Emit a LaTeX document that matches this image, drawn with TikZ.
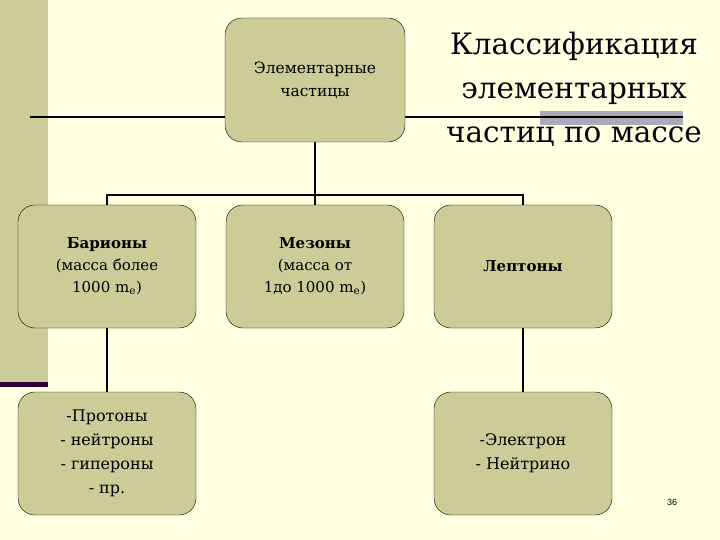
\documentclass[tikz,border=0pt]{standalone}
\usepackage{fontspec}
\setmainfont{DejaVu Serif}
\newfontfamily\pagefont{Liberation Sans}
\usepackage{xcolor}
\usepackage{tikz}
\usetikzlibrary{positioning}

\definecolor{khaki}{RGB}{204,204,153}
\definecolor{paper}{RGB}{255,255,225}
\definecolor{plum}{RGB}{51,0,51}
\definecolor{bargray}{RGB}{170,170,185}

\begin{document}
\begin{tikzpicture}[x=1pt, y=-1pt,
    box/.style={rectangle, rounded corners=17pt, draw, thin, fill=khaki,
      minimum width=178pt, minimum height=123pt, align=center, inner sep=0pt},
    link/.style={line width=1.6pt}]
          % slide background
          \fill[paper] (0,0) rectangle (720,540);
          \useasboundingbox (0,0) rectangle (720,540);
          \fill[khaki] (0,0) rectangle (48,382);
          \fill[plum] (0,382) rectangle (48,387);
          \fill[bargray] (540,111) rectangle (683,125);

          \coordinate (rulel) at (30,117);
          \coordinate (ruler) at (683,117);
          \draw[link] (rulel) -- (ruler);

          \node[box, minimum width=180pt, minimum height=124pt, font=\fontsize{15.5}{23}\selectfont] (part) at (315,80) {Элементарные\\частицы};

          \node[align=center, inner sep=0pt, font=\fontsize{29.5}{44}\selectfont, text=plum!30!black] (title) at (574,89) {Классификация\\элементарных\\частиц по массе};

          \node[box, font=\fontsize{15}{22}\selectfont] (bar) at (107,266.5) {\textbf{Барионы}\\(масса более\\1000 m\textsubscript{e})};
          \node[box, font=\fontsize{15}{22}\selectfont] (mes) at (315,266.5) {\textbf{Мезоны}\\(масса от\\1до 1000 m\textsubscript{e})};
          \node[box, font=\fontsize{15}{22}\selectfont] (lep) at (523,266.5) {\textbf{Лептоны}};

          \node[box, font=\fontsize{16}{24}\selectfont] (barlist) at (107,453.5) {-Протоны\\- нейтроны\\- гипероны\\- пр.};
          \node[box, font=\fontsize{16}{24}\selectfont] (leplist) at (523,453.5) {-Электрон\\- Нейтрино};

          \coordinate (hub) at (315,195);
          \draw[link] (part) -- (mes);
          \draw[link] (bar.north) |- (hub) -| (lep.north);
          \draw[link] (bar) -- (barlist);
          \draw[link] (lep) -- (leplist);

          \node[font=\pagefont\fontsize{9}{10}\selectfont] (pageno) at (672,502) {36};
        \end{tikzpicture}
\end{document}
